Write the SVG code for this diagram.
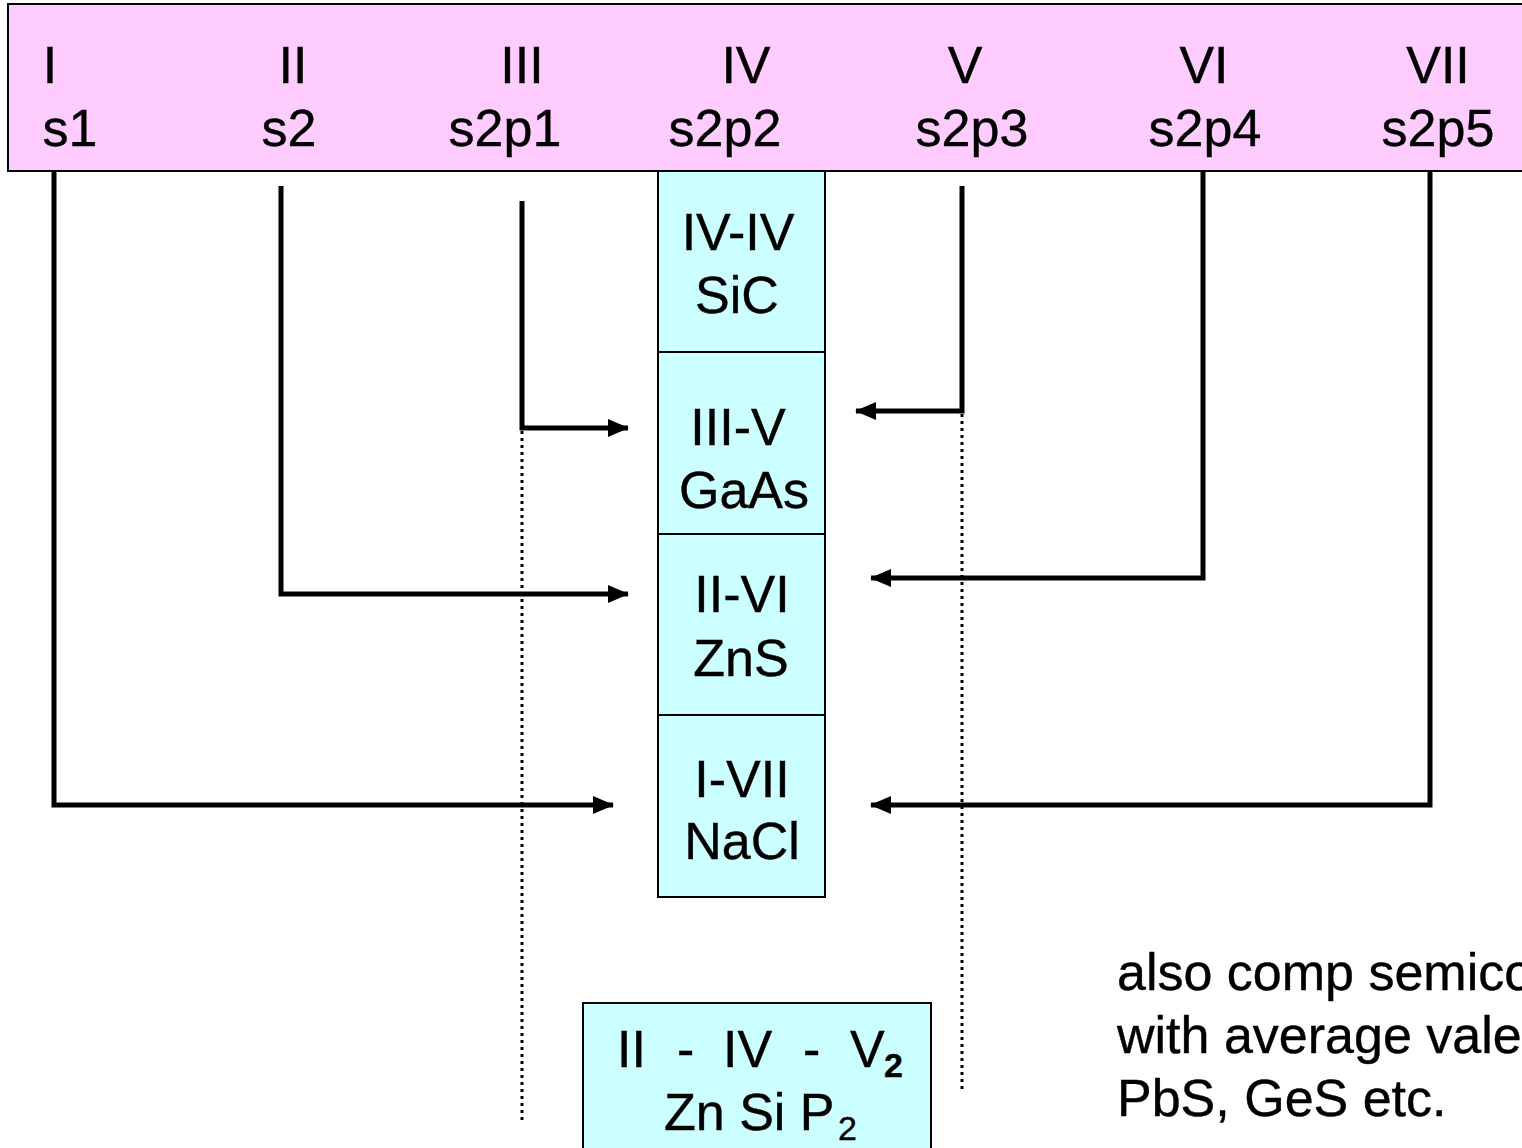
<svg xmlns="http://www.w3.org/2000/svg" width="1522" height="1148" viewBox="0 0 1522 1148">
<defs>
<style>
text{font-family:"Liberation Sans",Arial,sans-serif;font-size:52px;fill:#000;stroke:#000;stroke-width:0.4}
.box{fill:#CCFFFF;stroke:#000;stroke-width:2}
.ln{fill:none;stroke:#000;stroke-width:5}
.dot{fill:none;stroke:#000;stroke-width:3;stroke-dasharray:3 4}
</style>
<marker id="ah" viewBox="0 0 21 18" refX="20" refY="9" markerWidth="21" markerHeight="18" markerUnits="userSpaceOnUse" orient="auto">
<path d="M0,0 L21,9 L0,18 z" fill="#000"/>
</marker>
</defs>
<rect width="1522" height="1148" fill="#fff"/>
<g id="header">
<rect x="8" y="4" width="1530" height="167" fill="#FFCCFF" stroke="#000" stroke-width="2"/>
<text x="50" y="83" text-anchor="middle">I</text>
<text x="70" y="146" text-anchor="middle">s1</text>
<text x="293" y="83" text-anchor="middle">II</text>
<text x="289" y="146" text-anchor="middle">s2</text>
<text x="522" y="83" text-anchor="middle">III</text>
<text x="505" y="146" text-anchor="middle">s2p1</text>
<text x="746" y="83" text-anchor="middle">IV</text>
<text x="725" y="146" text-anchor="middle">s2p2</text>
<text x="965" y="83" text-anchor="middle">V</text>
<text x="972" y="146" text-anchor="middle">s2p3</text>
<text x="1204" y="83" text-anchor="middle">VI</text>
<text x="1205" y="146" text-anchor="middle">s2p4</text>
<text x="1438" y="83" text-anchor="middle">VII</text>
<text x="1438" y="146" text-anchor="middle">s2p5</text>
</g>
<g id="connectors">
<path class="ln" d="M54,171 V805 H613" marker-end="url(#ah)"/>
<path class="ln" d="M281,186 V594 H628" marker-end="url(#ah)"/>
<path class="ln" d="M522,201 V428 H628" marker-end="url(#ah)"/>
<path class="ln" d="M962,186 V411 H856" marker-end="url(#ah)"/>
<path class="ln" d="M1203,171 V578 H871" marker-end="url(#ah)"/>
<path class="ln" d="M1430,171 V805 H871" marker-end="url(#ah)"/>
<path class="dot" d="M522,431 V1122"/>
<path class="dot" d="M962,414 V1090"/>
</g>
<g id="iv-iv">
<rect class="box" x="658" y="171" width="167" height="181"/>
<text x="738" y="250" text-anchor="middle">IV-IV</text>
<text x="737" y="313" text-anchor="middle">SiC</text>
</g>
<g id="iii-v">
<rect class="box" x="658" y="352" width="167" height="182"/>
<text x="738" y="445" text-anchor="middle">III-V</text>
<text x="744" y="508" text-anchor="middle">GaAs</text>
</g>
<g id="ii-vi">
<rect class="box" x="658" y="534" width="167" height="181"/>
<text x="742" y="612" text-anchor="middle">II-VI</text>
<text x="741" y="676" text-anchor="middle">ZnS</text>
</g>
<g id="i-vii">
<rect class="box" x="658" y="715" width="167" height="182"/>
<text x="742" y="797" text-anchor="middle">I-VII</text>
<text x="742" y="859" text-anchor="middle">NaCl</text>
</g>
<g id="ii-iv-v2">
<rect class="box" x="583" y="1003" width="348" height="160"/>
<text y="1067"><tspan x="617">II</tspan><tspan x="677">-</tspan><tspan x="723">IV</tspan><tspan x="803">-</tspan><tspan x="850">V</tspan><tspan x="884" y="1077" font-size="34" font-weight="bold">2</tspan></text>
<text y="1130"><tspan x="664">Zn Si P</tspan><tspan x="838" y="1140" font-size="34">2</tspan></text>
</g>
<g id="note">
<text x="1117" y="990">also comp semiconductors</text>
<text x="1117" y="1053">with average valence</text>
<text x="1117" y="1116">PbS, GeS etc.</text>
</g>
</svg>
